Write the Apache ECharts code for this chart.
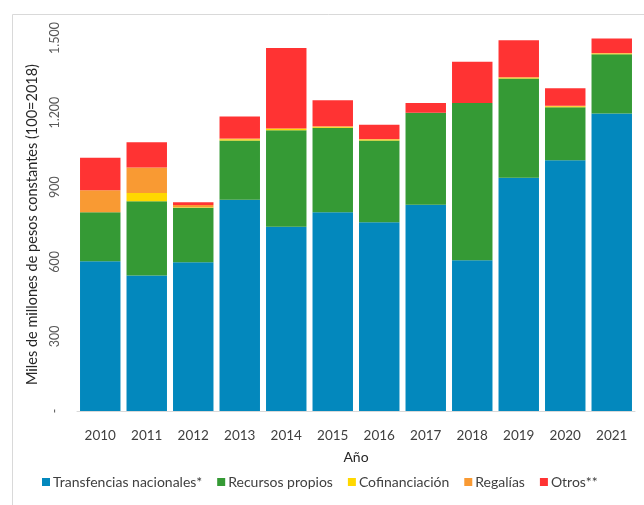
<!DOCTYPE html>
<html>
<head>
<meta charset="utf-8">
<script src="https://cdn.jsdelivr.net/npm/echarts@6/dist/echarts.min.js"></script>
<style>
  html, body { margin: 0; padding: 0; background: #fff; }
  #chart { width: 644px; height: 505px; }
</style>
</head>
<body>
<div id="chart"></div>
<script>
// años y componentes de la financiación (miles de millones de pesos constantes)
const years = ["2010", "2011", "2012", "2013", "2014", "2015", "2016", "2017", "2018", "2019", "2020", "2021"];
const transferencias = [602, 545, 598, 850, 741, 799, 759, 829, 606, 938, 1008, 1196];
const recursosPropios = [197, 299, 219, 238, 388, 340, 329, 370, 633, 399, 214, 239];
const cofinanciacion = [0, 33, 2, 5, 5, 4, 4, 0, 0, 4, 4, 3];
const regalias = [89, 102, 9, 3, 3, 2, 2, 0, 0, 1, 2, 2];
const otros = [130, 102, 11, 88, 323, 105, 57, 40, 165, 149, 70, 58];

const font = "Lato, 'Open Sans', sans-serif";

const chart = echarts.init(document.getElementById("chart"));

const barSeries = (name, data, color) => ({
  name: name,
  type: "bar",
  stack: "total",
  data: data,
  barWidth: "87%",
  itemStyle: { color: color },
  emphasis: { disabled: true }
});

const option = {
  animation: false,
  textStyle: { fontFamily: font },
  graphic: [
    {
      type: "rect",
      left: 10,
      top: 12,
      shape: { width: 700, height: 600 },
      style: { fill: "none", stroke: "#d9d9d9", lineWidth: 1 },
      silent: true
    }
  ],
  grid: { left: 77, right: 9, top: 38, bottom: 94 },
  legend: {
    top: 470,
    left: 37,
    itemWidth: 8,
    itemHeight: 8,
    itemGap: 15,
    icon: "rect",
    textStyle: { fontSize: 14, color: "#404040", fontFamily: font, padding: [0, 0, 0, -2] },
    data: ["Transfencias nacionales*", "Recursos propios", "Cofinanciación", "Regalías", "Otros**"]
  },
  xAxis: {
    type: "category",
    data: years,
    name: "Año",
    nameLocation: "middle",
    nameGap: 39,
    nameTextStyle: { fontSize: 14, color: "#262626", fontFamily: font },
    axisLine: { lineStyle: { color: "#d9d9d9" } },
    axisTick: { show: false },
    axisLabel: { fontSize: 13.5, color: "#404040", margin: 18, fontFamily: font }
  },
  yAxis: {
    type: "value",
    min: 0,
    max: 1500,
    interval: 300,
    name: "Miles de millones de pesos constantes (100=2018)",
    nameLocation: "middle",
    nameGap: 37,
    nameTextStyle: { fontSize: 14.5, color: "#262626", fontFamily: font },
    splitLine: { show: false },
    axisLine: { show: false },
    axisTick: { show: false },
    axisLabel: {
      rotate: 90,
      fontSize: 12.5,
      color: "#595959",
      margin: 16,
      fontFamily: font,
      formatter: (v) => (v === 0 ? "-" : v.toString().replace(/\B(?=(\d{3})+(?!\d))/g, "."))
    }
  },
  series: [
    barSeries("Transfencias nacionales*", transferencias, "#0388bd"),
    barSeries("Recursos propios", recursosPropios, "#359a35"),
    barSeries("Cofinanciación", cofinanciacion, "#ffd800"),
    barSeries("Regalías", regalias, "#f99a33"),
    barSeries("Otros**", otros, "#ff3333")
  ]
};

chart.setOption(option);
</script>
</body>
</html>
